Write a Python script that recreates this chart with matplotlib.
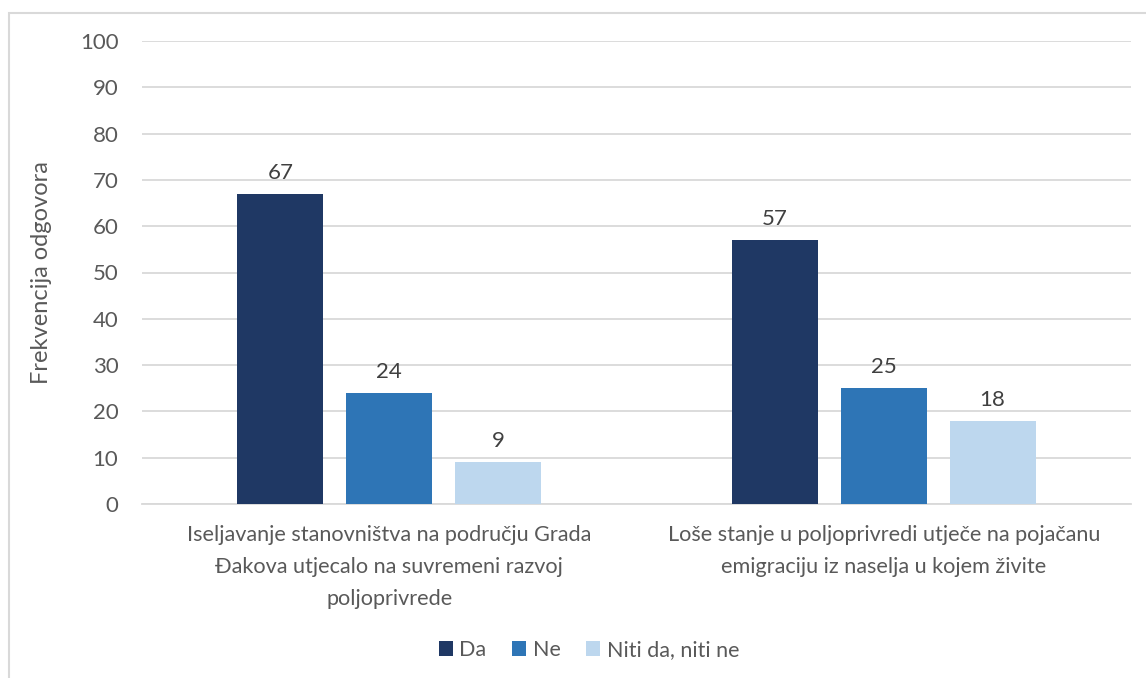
import matplotlib
matplotlib.use("Agg")
import matplotlib.pyplot as plt
from matplotlib.patches import Rectangle
import numpy as np

categories = ["Iseljavanje stanovništva na području Grada\nĐakova utjecalo na suvremeni razvoj\npoljoprivrede",
              "Loše stanje u poljoprivredi utječe na pojačanu\nemigraciju iz naselja u kojem živite"]
series_names = ["Da", "Ne", "Niti da, niti ne"]
da = [67, 57]
ne = [24, 25]
niti = [9, 18]
colors = ["#1F3864", "#2E75B6", "#BDD7EE"]
yticks = [0, 10, 20, 30, 40, 50, 60, 70, 80, 90, 100]

plt.rcParams['font.family'] = ['Lato', 'DejaVu Sans']
txt = "#595959"

W, H = 1146, 678
fig = plt.figure(figsize=(W/100, H/100), dpi=100)
ax = fig.add_axes([142/W, 1-504/H, (1131-142)/W, (504-41)/H])

fig.patches.append(Rectangle((9/W, -0.1), 1.2, 1 - 13/H + 0.1, transform=fig.transFigure,
                             fill=False, edgecolor="#D9D9D9", linewidth=1.5))

x = np.arange(len(categories))
w = 0.174
step = 0.22
for i, (vals, c, name) in enumerate(zip([da, ne, niti], colors, series_names)):
    bars = ax.bar(x + (i-1)*step, vals, width=w, color=c, label=name, zorder=3)
    ax.bar_label(bars, padding=8, fontsize=16, color="#404040")

ax.set_xlim(-0.5, 1.5)
ax.set_ylim(0, 100)
ax.set_yticks(yticks)
ax.set_yticklabels([str(t) for t in yticks], fontsize=16, color=txt)
ax.yaxis.grid(True, color="#D9D9D9", linewidth=1.3, zorder=0)
ax.set_axisbelow(True)
for s in ["top", "right", "left"]:
    ax.spines[s].set_visible(False)
ax.spines["bottom"].set_color("#D9D9D9")
ax.spines["bottom"].set_linewidth(1.3)
ax.tick_params(axis="y", length=0, pad=17)
ax.tick_params(axis="x", length=0, pad=15)
ax.set_xticks(x)
ax.set_xticklabels(categories, fontsize=15.6, color=txt, linespacing=1.75)
ax.set_ylabel("Frekvencija odgovora", fontsize=17, color=txt, labelpad=20)

ax.legend(loc="center", bbox_to_anchor=(589/W, 1-650/H), bbox_transform=fig.transFigure,
          ncol=3, frameon=False, fontsize=15.5, handlelength=0.65, handleheight=0.65,
          handletextpad=0.3, columnspacing=1.2, labelcolor=txt)

fig.savefig("out.png", dpi=100)
